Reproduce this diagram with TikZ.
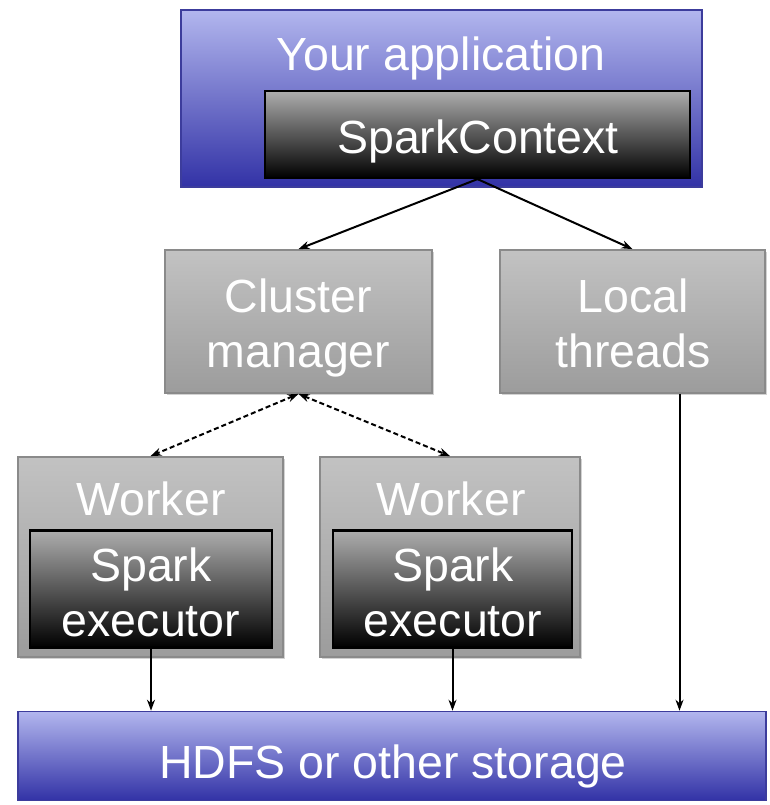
\documentclass[tikz,border=0pt]{standalone}
\usepackage{fontspec}
\setmainfont{Liberation Sans}
\usetikzlibrary{arrows.meta,shadows}
\definecolor{bluetop}{HTML}{B2B6EE}
\definecolor{bluebot}{HTML}{3232A6}
\definecolor{blueline}{HTML}{3C3C9C}
\definecolor{graytop}{HTML}{C2C2C2}
\definecolor{graybot}{HTML}{9C9C9C}
\definecolor{grayline}{HTML}{8A8A8A}
\definecolor{blacktop}{HTML}{ADADAD}
\begin{document}
\begin{tikzpicture}[x=1pt,y=-1pt,
  bigtext/.style={text=white,font=\fontsize{46.5}{55}\selectfont,align=center,inner sep=0pt},
  bluebox/.style={draw=blueline,line width=1.6pt,top color=bluetop,bottom color=bluebot,inner sep=0pt},
  graybox/.style={draw=grayline,line width=1.8pt,top color=graytop,bottom color=graybot,inner sep=0pt,
    drop shadow={opacity=0.35,shadow xshift=2pt,shadow yshift=-2pt}},
  blackbox/.style={draw=black,line width=2.2pt,top color=blacktop,bottom color=black,inner sep=0pt},
  conn/.style={line width=2pt,-{Stealth[length=11pt,width=8pt]}},
  dconn/.style={line width=2pt,dash pattern=on 5pt off 3pt,{Stealth[length=11pt,width=8pt]}-{Stealth[length=11pt,width=8pt]}}
]
\useasboundingbox (0,0) rectangle (769,805);
\fill[white] (0,0) rectangle (769,805);

% top application box
\node[bluebox,minimum width=521pt,minimum height=177pt] (app) at (441.5,98.5) {};
\node[bigtext] (apptxt) at (441,58) {Your application};
\node[blackbox,minimum width=425pt,minimum height=87pt] (sc) at (477.5,134.5) {};
\node[bigtext] (sctxt) at (478,141) {SparkContext};

% middle row
\node[graybox,minimum width=267pt,minimum height=143pt] (cm) at (298.5,321.5) {};
\node[bigtext] (cmtxt) at (298.5,327.5) {Cluster\\manager};
\node[graybox,minimum width=265pt,minimum height=143pt] (lt) at (632.5,321.5) {};
\node[bigtext] (lttxt) at (633,323) {Local\\threads};

% workers
\node[graybox,minimum width=265pt,minimum height=200pt] (w1) at (150.5,557) {};
\node[bigtext] (w1txt) at (151,499) {Worker};
\node[blackbox,minimum width=242pt,minimum height=117pt] (e1) at (151,589) {};
\node[bigtext] (e1txt) at (151,592) {Spark\\executor};

\node[graybox,minimum width=260pt,minimum height=200pt] (w2) at (450,557) {};
\node[bigtext] (w2txt) at (451,499) {Worker};
\node[blackbox,minimum width=239pt,minimum height=117pt] (e2) at (452.5,589) {};
\node[bigtext] (e2txt) at (453,592) {Spark\\executor};

% storage
\node[bluebox,minimum width=748pt,minimum height=89pt] (hdfs) at (392,756) {};
\node[bigtext] (hdfstxt) at (393,766) {HDFS or other storage};

% connectors
\draw[conn] (sc.south) -- (cm.north);
\draw[conn] (sc.south) -- (lt.north);
\draw[dconn] (cm.south) -- (w1.north);
\draw[dconn] (cm.south) -- (w2.north);
\draw[conn] (e1.south) -- (e1.south |- hdfs.north);
\draw[conn] (e2.south) -- (e2.south |- hdfs.north);
\coordinate (ltout) at ([xshift=47pt]lt.south);
\draw[conn] (ltout) -- (ltout |- hdfs.north);
\end{tikzpicture}
\end{document}
